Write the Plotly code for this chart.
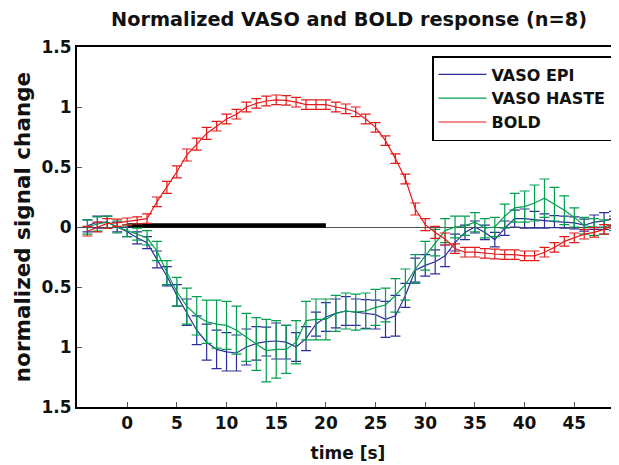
import plotly.graph_objects as go

# time points [s]
t = [-4, -3, -2, -1, 0, 1, 2, 3, 4, 5, 6, 7, 8, 9, 10, 11, 12, 13, 14, 15,
     16, 17, 18, 19, 20, 21, 22, 23, 24, 25, 26, 27, 28, 29, 30, 31, 32, 33,
     34, 35, 36, 37, 38, 39, 40, 41, 42, 43, 44, 45, 46, 47, 48, 49]

vaso_epi = [0.01, 0.04, 0.04, 0.0, -0.04, -0.09, -0.13, -0.27, -0.41, -0.57,
            -0.71, -0.86, -0.96, -1.02, -1.04, -1.05, -1.0, -0.97, -0.955, -0.95,
            -0.96, -1.0, -0.93, -0.81, -0.75, -0.72, -0.70, -0.71, -0.725, -0.73,
            -0.77, -0.74, -0.57, -0.36, -0.32, -0.29, -0.24, -0.13, -0.045, 0.0,
            -0.045, -0.105, -0.01, 0.07, 0.07, 0.06, 0.05, 0.045, 0.04, 0.035,
            0.015, 0.04, 0.05, 0.07]
vaso_epi_err = [0.05, 0.05, 0.05, 0.04, 0.04, 0.05, 0.05, 0.07, 0.08, 0.09,
                0.11, 0.12, 0.15, 0.16, 0.16, 0.15, 0.15, 0.14, 0.12, 0.15,
                0.14, 0.12, 0.10, 0.10, 0.12, 0.12, 0.12, 0.11, 0.12, 0.12,
                0.15, 0.17, 0.10, 0.10, 0.09, 0.10, 0.09, 0.07, 0.06, 0.05,
                0.06, 0.06, 0.06, 0.07, 0.08, 0.07, 0.06, 0.05, 0.05, 0.05,
                0.05, 0.06, 0.07, 0.06]

vaso_haste = [0.0, 0.025, 0.04, 0.0, -0.03, -0.06, -0.09, -0.2, -0.38, -0.54,
              -0.66, -0.74, -0.79, -0.81, -0.82, -0.86, -0.92, -0.975, -1.03, -1.02,
              -1.02, -0.96, -0.78, -0.77, -0.77, -0.72, -0.70, -0.71, -0.70, -0.67,
              -0.65, -0.57, -0.48, -0.35, -0.24, -0.13, -0.03, 0.0, 0.01, 0.04,
              -0.01, 0.0, 0.09, 0.16, 0.17, 0.20, 0.24, 0.19, 0.14, 0.08,
              0.01, 0.0, 0.0, 0.03]
vaso_haste_err = [0.06, 0.06, 0.05, 0.05, 0.05, 0.05, 0.06, 0.08, 0.10, 0.12,
                  0.15, 0.16, 0.18, 0.20, 0.20, 0.20, 0.20, 0.22, 0.26, 0.24,
                  0.20, 0.18, 0.16, 0.17, 0.17, 0.15, 0.15, 0.15, 0.15, 0.15,
                  0.14, 0.14, 0.13, 0.12, 0.12, 0.11, 0.10, 0.09, 0.08, 0.08,
                  0.08, 0.08, 0.10, 0.12, 0.13, 0.15, 0.16, 0.14, 0.12, 0.08,
                  0.07, 0.07, 0.06, 0.06]

bold = [-0.035, 0.0, 0.03, 0.035, 0.045, 0.055, 0.07, 0.21, 0.33, 0.46,
        0.60, 0.69, 0.78, 0.84, 0.90, 0.94, 1.00, 1.03, 1.05, 1.06,
        1.055, 1.04, 1.02, 1.02, 1.02, 1.00, 0.985, 0.96, 0.90, 0.83,
        0.72, 0.57, 0.40, 0.15, 0.02, -0.045, -0.10, -0.18, -0.21, -0.21,
        -0.22, -0.225, -0.23, -0.23, -0.24, -0.24, -0.21, -0.17, -0.12, -0.09,
        -0.06, -0.045, -0.02, 0.03]
bold_err = [0.04, 0.04, 0.04, 0.03, 0.03, 0.03, 0.04, 0.04, 0.05, 0.05,
            0.05, 0.05, 0.05, 0.04, 0.04, 0.04, 0.04, 0.04, 0.04, 0.04,
            0.04, 0.04, 0.04, 0.04, 0.04, 0.04, 0.04, 0.04, 0.04, 0.04,
            0.04, 0.04, 0.04, 0.05, 0.05, 0.05, 0.05, 0.04, 0.04, 0.04,
            0.04, 0.04, 0.04, 0.04, 0.04, 0.04, 0.04, 0.04, 0.04, 0.04,
            0.04, 0.04, 0.04, 0.04]

# stimulus period
stim_t = [0, 20]
stim_v = [0.012, 0.012]

x_ticks = [0, 5, 10, 15, 20, 25, 30, 35, 40, 45]
y_ticks = [-1.5, -1, -0.5, 0, 0.5, 1, 1.5]
y_ticktext = ["1.5", "1", "0.5", "0", "0.5", "1", "1.5"]

FONT = "DejaVu Sans"
BLUE = "#2e2e9a"
GREEN = "#00a04e"
RED = "#e41a1a"
TXT = "#111111"

# the page body has an 8px default margin; size the figure to fill the rest
OFF = 8
W, H = 619 - OFF, 465 - OFF
ML, MT, MB = 77 - OFF, 47 - OFF, 58
PW, PH = W - ML, H - MT - MB

fig = go.Figure()

fig.add_trace(go.Scatter(
    x=stim_t, y=stim_v, mode="lines", showlegend=False,
    line=dict(color="black", width=4.5), hoverinfo="skip"))

for name, vals, errs, col in [("VASO EPI", vaso_epi, vaso_epi_err, BLUE),
                              ("VASO HASTE", vaso_haste, vaso_haste_err, GREEN),
                              ("BOLD", bold, bold_err, RED)]:
    fig.add_trace(go.Scatter(
        x=t, y=vals, mode="lines", name=name,
        line=dict(color=col, width=1.2),
        error_y=dict(type="data", array=errs, visible=True,
                     color=col, thickness=1.2, width=5)))

fig.update_layout(
    width=W, height=H,
    margin=dict(l=ML, r=0, t=MT, b=MB, pad=0),
    paper_bgcolor="white", plot_bgcolor="white",
    font=dict(family=FONT, color=TXT, size=17),
    title=dict(text="Normalized VASO and BOLD response (n=8)",
               x=(349 - OFF) / W, xanchor="center",
               y=1 - (19 - OFF) / H, yanchor="middle",
               font=dict(family=FONT, size=19.3, weight="bold", color=TXT)),
    showlegend=True,
    legend=dict(x=(432 - 77) / PW, y=1 - (56 - 47) / PH,
                xanchor="left", yanchor="top", itemwidth=48,
                bgcolor="white", bordercolor="black", borderwidth=1.5,
                font=dict(family=FONT, size=16, weight="bold", color=TXT),
                tracegroupgap=0),
)

fig.update_xaxes(
    range=[-5.05, 49.5], tickvals=x_ticks, ticks="inside", ticklen=5,
    tickcolor="#555", tickwidth=1, showgrid=False, zeroline=False,
    showline=True, linecolor="black", linewidth=2, mirror=True,
    automargin=False,
    tickfont=dict(family=FONT, size=17, weight="bold", color=TXT),
    title=dict(text="time [s]", standoff=15,
               font=dict(family=FONT, size=17, weight="bold", color=TXT)))

fig.update_yaxes(
    range=[-1.5, 1.5], tickvals=y_ticks, ticktext=y_ticktext, ticks="inside",
    ticklen=5, tickcolor="#555", tickwidth=1, showgrid=False,
    zeroline=True, zerolinecolor="#555", zerolinewidth=1,
    showline=True, linecolor="black", linewidth=2, mirror=False,
    automargin=False,
    tickfont=dict(family=FONT, size=17, weight="bold", color=TXT),
    title=dict(text="normalized signal change", standoff=5,
               font=dict(family=FONT, size=21.5, weight="bold", color=TXT)))

fig.write_html("out.html")
